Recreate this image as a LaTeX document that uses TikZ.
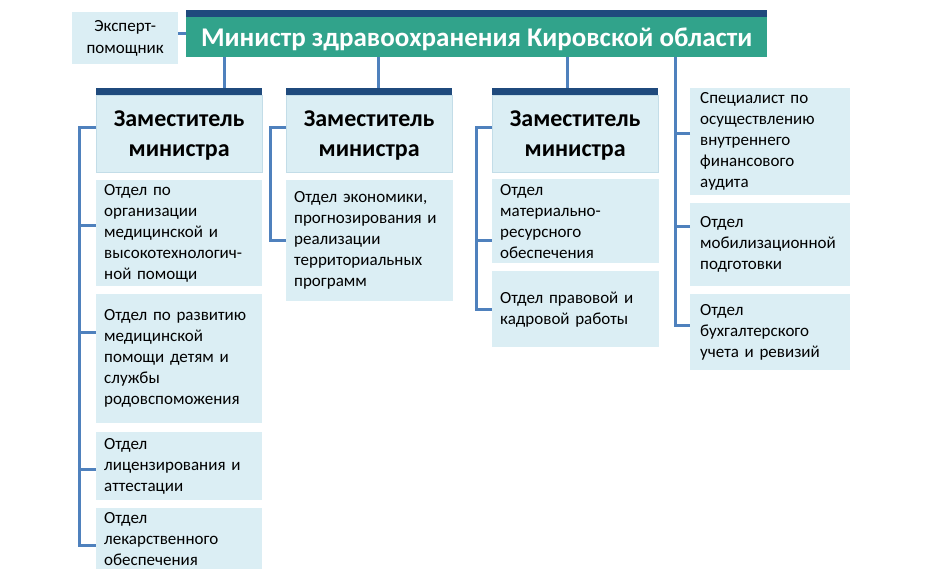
\documentclass[tikz,border=0pt]{standalone}
\usepackage{fontspec}
\setmainfont{Carlito}
\definecolor{navy}{HTML}{1F4A7D}
\definecolor{teal}{HTML}{31A38B}
\definecolor{pale}{HTML}{DBEEF4}
\definecolor{paleedge}{HTML}{C3DDE8}
\definecolor{wireblue}{HTML}{4F81BD}
\tikzset{
  box/.style={rectangle, fill=pale, anchor=north west, inner xsep=8pt, inner ysep=0pt,
    align=left, font=\fontsize{17}{21}\selectfont},
  chief/.style={rectangle, fill=teal, anchor=north west, inner sep=0pt, align=center,
    text depth=0pt, text=white, font=\fontsize{27}{30}\selectfont\bfseries},
  deputy/.style={rectangle, fill=pale, draw=paleedge, anchor=north west, inner sep=0pt,
    align=center, text depth=0pt, font=\fontsize{24}{30}\selectfont\bfseries},
  wire/.style={draw=wireblue, line width=3pt}
}
\begin{document}
\begin{tikzpicture}[x=1pt,y=-1pt]
  \useasboundingbox (0,0) rectangle (940,581);
  \draw
    (72,12) node[box, align=center, inner xsep=0pt, text width=106pt, minimum height=52pt,
      font=\fontsize{17}{22}\selectfont] (e){Эксперт-\\помощник}
    (186,17) node[chief, minimum width=581pt, minimum height=40pt] (m){Министр здравоохранения Кировской области}
    (96,95) node[deputy, minimum width=166pt, minimum height=77pt] (d1){Заместитель\\министра}
    (286,95) node[deputy, minimum width=166pt, minimum height=77pt] (d2){Заместитель\\министра}
    (492,95) node[deputy, minimum width=166pt, minimum height=77pt] (d3){Заместитель\\министра}
    (96,180) node[box, text width=150pt, minimum height=106pt] (a1){Отдел по\\организации\\медицинской и\\высокотехнологич-\\ной помощи}
    (96,294) node[box, text width=150pt, minimum height=129pt] (a2){Отдел по развитию\\медицинской\\помощи детям и\\службы\\родовспоможения}
    (96,432) node[box, text width=150pt, minimum height=68pt] (a3){Отдел\\лицензирования и\\аттестации}
    (96,508) node[box, text width=150pt, minimum height=61pt] (a4){Отдел\\лекарственного\\обеспечения}
    (286,180) node[box, text width=151pt, minimum height=121pt] (b1){Отдел экономики,\\прогнозирования и\\реализации\\территориальных\\программ}
    (492,179) node[box, text width=151pt, minimum height=84pt] (c1){Отдел\\материально-\\ресурсного\\обеспечения}
    (492,271) node[box, text width=151pt, minimum height=76pt] (c2){Отдел правовой и\\кадровой работы}
    (690,88) node[box, inner xsep=10pt, text width=140pt, minimum height=107pt] (s1){Специалист по\\осуществлению\\внутреннего\\финансового\\аудита}
    (690,203) node[box, inner xsep=10pt, text width=140pt, minimum height=83pt] (s2){Отдел\\мобилизационной\\подготовки}
    (690,294) node[box, inner xsep=10pt, text width=140pt, minimum height=76pt] (s3){Отдел\\бухгалтерского\\учета и ревизий};
  % top bars
  \fill[navy] ([yshift=7pt]m.north west) rectangle (m.north east);
  \fill[navy] ([yshift=7pt]d1.north west) rectangle (d1.north east);
  \fill[navy] ([yshift=7pt]d2.north west) rectangle (d2.north east);
  \fill[navy] ([yshift=7pt]d3.north west) rectangle (d3.north east);
  \begin{scope}[wire]
    \draw ([yshift=5pt]e.east) -- ([yshift=5pt]e.east -| m.west);
    \draw ([xshift=38pt]m.south west) -- ([xshift=38pt,yshift=7pt]m.south west |- d1.north);
    \draw ([xshift=192pt]m.south west) -- ([xshift=192pt,yshift=7pt]m.south west |- d2.north);
    \draw ([xshift=381pt]m.south west) -- ([xshift=381pt,yshift=7pt]m.south west |- d3.north);
    \draw ([xshift=489pt]m.south west) |- ([yshift=7pt]s3.west);
    \draw ([yshift=8pt]s1.west) -- ++(-15,0);
    \draw ([yshift=18pt]s2.west) -- ++(-15,0);
    \draw ([yshift=6pt]d1.west) -| ([xshift=-17pt,yshift=-7pt]a4.west) -- ([yshift=-7pt]a4.west);
    \draw ([xshift=-17pt,yshift=8pt]a1.west) -- ([yshift=8pt]a1.west);
    \draw ([xshift=-17pt,yshift=26pt]a2.west) -- ([yshift=26pt]a2.west);
    \draw ([xshift=-17pt,yshift=-3pt]a3.west) -- ([yshift=-3pt]a3.west);
    \draw ([yshift=6pt]d2.west) -| ([xshift=-16pt]b1.west) -- (b1.west);
    \draw ([yshift=6pt]d3.west) -| ([xshift=-16pt]c2.west) -- (c2.west);
    \draw ([xshift=-16pt,yshift=-19pt]c1.west) -- ([yshift=-19pt]c1.west);
  \end{scope}
\end{tikzpicture}
\end{document}
